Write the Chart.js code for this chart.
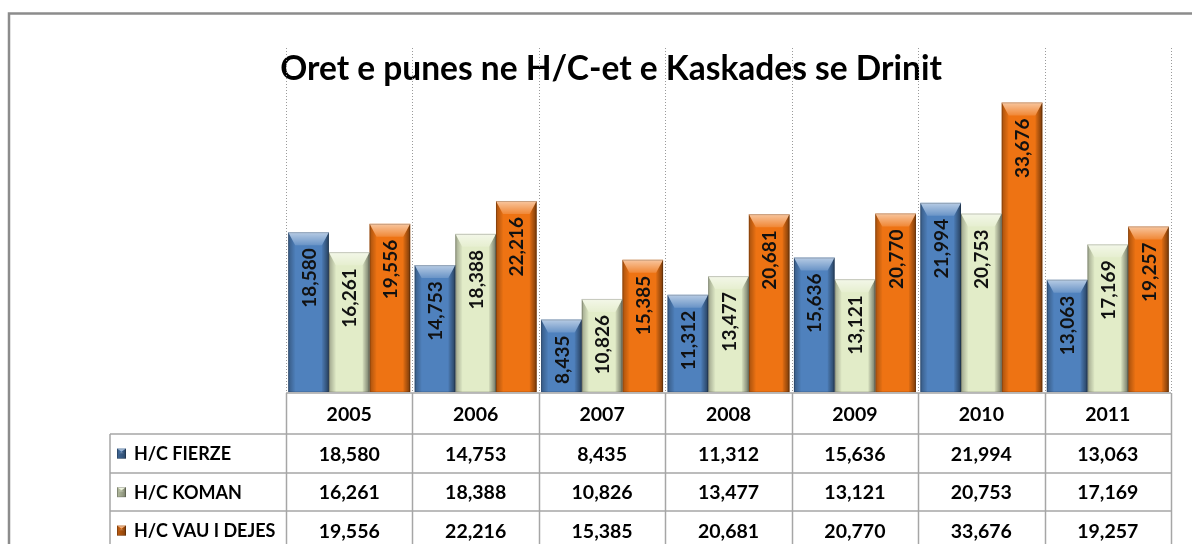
<!DOCTYPE html>
<html>
<head>
<meta charset="utf-8">
<script src="https://cdn.jsdelivr.net/npm/chart.js@4.4.1/dist/chart.umd.min.js"></script>
<style>
  html, body { margin: 0; padding: 0; background: #fff; }
  #wrap { width: 1192px; height: 544px; position: relative; }
</style>
</head>
<body>
<div id="wrap"><canvas id="hoursChart" width="1192" height="544"></canvas></div>
<script>
const years = ['2005', '2006', '2007', '2008', '2009', '2010', '2011'];
const seriesNames = ['H/C FIERZE', 'H/C KOMAN', 'H/C VAU I DEJES'];
const fierze = [18580, 14753, 8435, 11312, 15636, 21994, 13063];
const koman = [16261, 18388, 10826, 13477, 13121, 20753, 17169];
const vau = [19556, 22216, 15385, 20681, 20770, 33676, 19257];

const baseColors = ['#4f81bd', '#e2ecc8', '#ee7313'];
const FONT = 'Lato, "Open Sans", sans-serif';

function fmt(v) {
  return v.toLocaleString('en-US');
}

function poly(ctx, pts, fill) {
  ctx.beginPath();
  ctx.moveTo(pts[0][0], pts[0][1]);
  for (let i = 1; i < pts.length; i++) ctx.lineTo(pts[i][0], pts[i][1]);
  ctx.closePath();
  ctx.fillStyle = fill;
  ctx.fill();
}

// bevel shading on top of a plain bar
function bevel(ctx, l, r, t, b) {
  const d = Math.min(13, (b - t) / 2);
  const s = 7;
  let g = ctx.createLinearGradient(r - s, 0, r, 0);
  g.addColorStop(0, 'rgba(0,0,0,0.05)');
  g.addColorStop(1, 'rgba(0,0,0,0.5)');
  poly(ctx, [[r - s, t + d], [r, t], [r, b], [r - s, b]], g);

  g = ctx.createLinearGradient(l, 0, l + s, 0);
  g.addColorStop(0, 'rgba(0,0,0,0.3)');
  g.addColorStop(1, 'rgba(0,0,0,0.02)');
  poly(ctx, [[l, t], [l + s, t + d], [l + s, b], [l, b]], g);

  g = ctx.createLinearGradient(0, t, 0, t + d);
  g.addColorStop(0, 'rgba(255,255,255,0.6)');
  g.addColorStop(1, 'rgba(255,255,255,0.15)');
  poly(ctx, [[l, t], [r, t], [r - s, t + d], [l + s, t + d]], g);

  ctx.strokeStyle = 'rgba(0,0,0,0.2)';
  ctx.lineWidth = 1;
  ctx.strokeRect(l + 0.5, t + 0.5, r - l - 1, b - t - 0.5);
}

const tablePlugin = {
  id: 'excelTable',
  beforeDraw(chart) {
    const ctx = chart.ctx;
    ctx.save();
    // outer frame
    ctx.strokeStyle = '#8c8c8c';
    ctx.lineWidth = 2.5;
    ctx.beginPath();
    ctx.moveTo(9, 560);
    ctx.lineTo(9, 13.5);
    ctx.lineTo(1200, 13.5);
    ctx.stroke();

    // title
    ctx.fillStyle = '#000';
    ctx.font = 'bold 33.5px ' + FONT;
    ctx.textAlign = 'center';
    ctx.textBaseline = 'alphabetic';
    ctx.fillText('Oret e punes ne H/C-et e Kaskades se Drinit', 611, 80);
    ctx.restore();
  },
  beforeDatasetsDraw(chart) {
    const ctx = chart.ctx;
    const area = chart.chartArea;
    const cw = area.width / years.length;
    ctx.save();
    ctx.strokeStyle = '#9a9a9a';
    ctx.lineWidth = 1;
    ctx.setLineDash([1, 2]);
    for (let i = 0; i <= years.length; i++) {
      const x = Math.round(area.left + i * cw) + 0.5;
      ctx.beginPath();
      ctx.moveTo(x, area.top);
      ctx.lineTo(x, area.bottom);
      ctx.stroke();
    }
    ctx.restore();
  },
  afterDatasetsDraw(chart) {
    const ctx = chart.ctx;
    ctx.save();
    chart.data.datasets.forEach((ds, di) => {
      const meta = chart.getDatasetMeta(di);
      meta.data.forEach((bar, i) => {
        const p = bar.getProps(['x', 'y', 'base', 'width'], true);
        const l = p.x - p.width / 2;
        const r = p.x + p.width / 2;
        bevel(ctx, l, r, p.y, p.base);

        ctx.save();
        ctx.translate(p.x + 1, p.y + 16);
        ctx.rotate(-Math.PI / 2);
        ctx.font = 'bold 19px ' + FONT;
        ctx.fillStyle = '#111';
        ctx.textAlign = 'right';
        ctx.textBaseline = 'middle';
        ctx.fillText(fmt(ds.data[i]), 0, 0);
        ctx.restore();
      });
    });
    ctx.restore();
  },
  afterDraw(chart) {
    const ctx = chart.ctx;
    const area = chart.chartArea;
    const cw = area.width / years.length;
    const rows = [393, 434, 473, 511, 550];
    const legendLeft = 110;
    const series = [fierze, koman, vau];

    ctx.save();
    ctx.strokeStyle = '#a6a6a6';
    ctx.lineWidth = 1.5;

    // horizontal lines
    ctx.beginPath();
    ctx.moveTo(area.left, rows[0]);
    ctx.lineTo(area.right, rows[0]);
    for (let k = 1; k < rows.length; k++) {
      ctx.moveTo(legendLeft, rows[k]);
      ctx.lineTo(area.right, rows[k]);
    }
    // vertical lines
    for (let i = 0; i <= years.length; i++) {
      const x = Math.round(area.left + i * cw) + 0.5;
      ctx.moveTo(x, rows[0]);
      ctx.lineTo(x, rows[4]);
    }
    ctx.moveTo(legendLeft, rows[1]);
    ctx.lineTo(legendLeft, rows[4]);
    ctx.stroke();

    ctx.fillStyle = '#000';
    ctx.textAlign = 'center';
    ctx.textBaseline = 'middle';
    ctx.font = 'bold 19.5px ' + FONT;
    years.forEach((y, i) => {
      ctx.fillText(y, area.left + (i + 0.5) * cw, (rows[0] + rows[1]) / 2 + 1);
    });
    series.forEach((vals, k) => {
      const cy = (rows[k + 1] + rows[k + 2]) / 2 + 1;
      vals.forEach((v, i) => {
        ctx.fillText(fmt(v), area.left + (i + 0.5) * cw, cy);
      });
    });

    // legend keys and names
    ctx.textAlign = 'left';
    ctx.font = 'bold 18px ' + FONT;
    seriesNames.forEach((name, k) => {
      const cy = (rows[k + 1] + rows[k + 2]) / 2;
      ctx.fillStyle = baseColors[k];
      ctx.fillRect(117, cy - 5, 9, 10);
      bevel(ctx, 117, 126, cy - 5, cy + 5);
      ctx.fillStyle = '#000';
      ctx.fillText(name, 134, cy + 1);
    });
    ctx.restore();
  },
};

const ctx = document.getElementById('hoursChart').getContext('2d');
new Chart(ctx, {
  type: 'bar',
  data: {
    labels: years,
    datasets: [
      { label: seriesNames[0], data: fierze, backgroundColor: baseColors[0] },
      { label: seriesNames[1], data: koman, backgroundColor: baseColors[1] },
      { label: seriesNames[2], data: vau, backgroundColor: baseColors[2] },
    ],
  },
  options: {
    responsive: false,
    animation: false,
    devicePixelRatio: 1,
    layout: { padding: { left: 286, right: 21, top: 48, bottom: 152 } },
    datasets: { bar: { categoryPercentage: 0.965, barPercentage: 1.0 } },
    plugins: {
      legend: { display: false },
      title: { display: false },
      tooltip: { enabled: false },
    },
    scales: {
      x: { display: false },
      y: { display: false, min: 0, max: 40000 },
    },
  },
  plugins: [tablePlugin],
});
</script>
</body>
</html>
